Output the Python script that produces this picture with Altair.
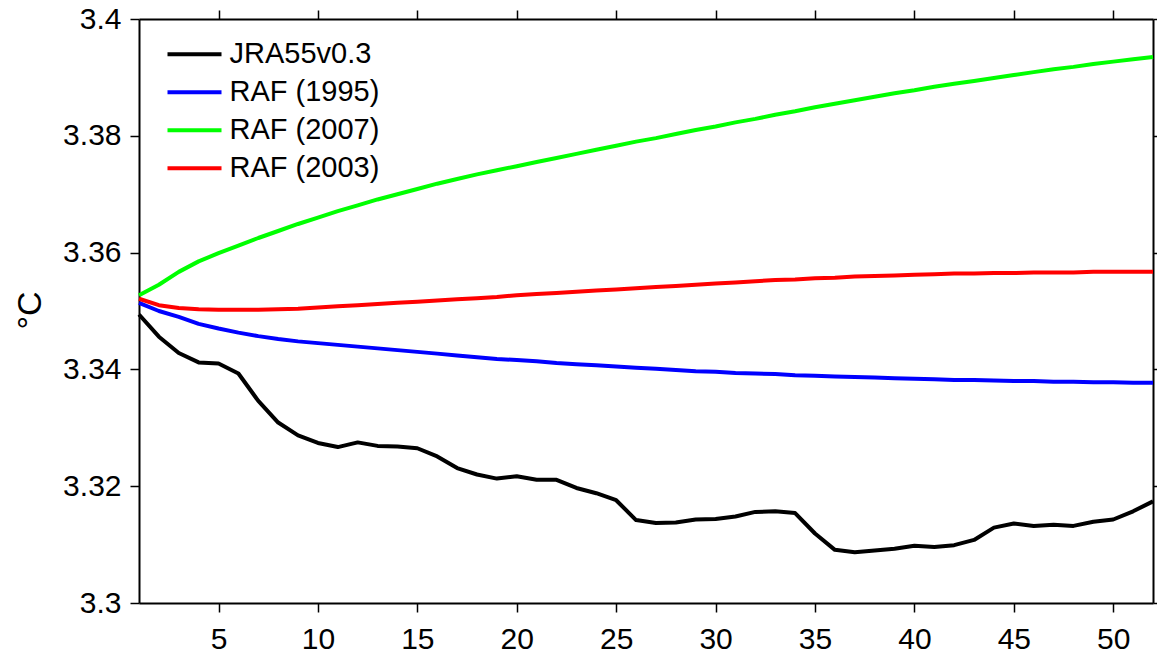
import altair as alt
import pandas as pd

weeks = list(range(1, 53))

jra55 = [3.3494, 3.3456, 3.3428, 3.3412, 3.3410, 3.3393, 3.3346, 3.3309, 3.3287, 3.3274,
         3.3267, 3.3275, 3.3269, 3.3268, 3.3265, 3.3251, 3.3231, 3.3220, 3.3213, 3.3217,
         3.3211, 3.3211, 3.3197, 3.3188, 3.3176, 3.3142, 3.3137, 3.3138, 3.3143, 3.3144,
         3.3148, 3.3156, 3.3157, 3.3154, 3.3119, 3.3091, 3.3087, 3.3090, 3.3093, 3.3098,
         3.3096, 3.3099, 3.3108, 3.3129, 3.3136, 3.3132, 3.3134, 3.3132, 3.3139, 3.3143,
         3.3157, 3.3174]

raf1995 = [3.3514, 3.3500, 3.3490, 3.3478, 3.3470, 3.3463, 3.3457, 3.3452, 3.3448, 3.3445,
           3.3442, 3.3439, 3.3436, 3.3433, 3.3430, 3.3427, 3.3424, 3.3421, 3.3418, 3.3416,
           3.3414, 3.3411, 3.3409, 3.3407, 3.3405, 3.3403, 3.3401, 3.3399, 3.3397, 3.3396,
           3.3394, 3.3393, 3.3392, 3.3390, 3.3389, 3.3388, 3.3387, 3.3386, 3.3385, 3.3384,
           3.3383, 3.3382, 3.3382, 3.3381, 3.3380, 3.3380, 3.3379, 3.3379, 3.3378, 3.3378,
           3.3377, 3.3377]

raf2007 = [3.3527, 3.3545, 3.3567, 3.3585, 3.3599, 3.3612, 3.3625, 3.3637, 3.3649, 3.3660,
           3.3671, 3.3681, 3.3691, 3.3700, 3.3709, 3.3718, 3.3726, 3.3734, 3.3741, 3.3748,
           3.3755, 3.3762, 3.3769, 3.3776, 3.3783, 3.3790, 3.3796, 3.3803, 3.3810, 3.3816,
           3.3823, 3.3829, 3.3836, 3.3842, 3.3849, 3.3855, 3.3861, 3.3867, 3.3873, 3.3878,
           3.3884, 3.3889, 3.3894, 3.3899, 3.3904, 3.3909, 3.3914, 3.3918, 3.3923, 3.3927,
           3.3931, 3.3935]

raf2003 = [3.3521, 3.3510, 3.3505, 3.3503, 3.3502, 3.3502, 3.3502, 3.3503, 3.3504, 3.3506,
           3.3508, 3.3510, 3.3512, 3.3514, 3.3516, 3.3518, 3.3520, 3.3522, 3.3524, 3.3527,
           3.3529, 3.3531, 3.3533, 3.3535, 3.3537, 3.3539, 3.3541, 3.3543, 3.3545, 3.3547,
           3.3549, 3.3551, 3.3553, 3.3554, 3.3556, 3.3557, 3.3559, 3.3560, 3.3561, 3.3562,
           3.3563, 3.3564, 3.3564, 3.3565, 3.3565, 3.3566, 3.3566, 3.3566, 3.3567, 3.3567,
           3.3567, 3.3567]

series_names = ["JRA55v0.3", "RAF (1995)", "RAF (2007)", "RAF (2003)"]
series_colors = ["#000000", "#0000ff", "#00ff00", "#ff0000"]
x_ticks = [5, 10, 15, 20, 25, 30, 35, 40, 45, 50]
y_ticks = [3.3, 3.32, 3.34, 3.36, 3.38, 3.4]

rows = []
for name, vals in zip(series_names, [jra55, raf1995, raf2007, raf2003]):
    for w, v in zip(weeks, vals):
        rows.append({"week": w, "value": v, "series": name})
df = pd.DataFrame(rows)

FONT = "Liberation Sans"
xscale = alt.Scale(domain=[1, 52], nice=False, zero=False)
yscale = alt.Scale(domain=[3.3, 3.4], nice=False, zero=False)

common = dict(domain=True, domainColor="black", domainWidth=2, ticks=True,
              tickColor="black", tickWidth=1.5, tickSize=9, grid=False,
              labelFont=FONT, labelFontSize=30, labelColor="black")

lines = alt.Chart(df).mark_line(strokeWidth=4, strokeJoin="round").encode(
    x=alt.X("week:Q", scale=xscale,
            axis=alt.Axis(orient="bottom", values=x_ticks, title=None,
                          labelPadding=12, **common)),
    y=alt.Y("value:Q", scale=yscale,
            axis=alt.Axis(orient="left", values=y_ticks, title="°C",
                          labelExpr="format(datum.value, '.2~f')",
                          labelPadding=9, titleFont=FONT, titleFontSize=34,
                          titleFontWeight="normal", titleColor="black",
                          titleAngle=-90, titleX=-99, titleY=291,
                          titleAlign="center", titleBaseline="alphabetic",
                          **common)),
    color=alt.Color("series:N",
                    scale=alt.Scale(domain=series_names, range=series_colors),
                    legend=alt.Legend(orient="none", legendX=26.5, legendY=16.3,
                                      title=None, symbolType="stroke",
                                      symbolStrokeWidth=4, symbolSize=2916,
                                      symbolOffset=0, clipHeight=38,
                                      labelFont=FONT, labelFontSize=29,
                                      labelColor="black", labelOffset=6,
                                      labelBaseline="middle",
                                      padding=0, rowPadding=0)),
)

frame = alt.Chart(df).mark_line(opacity=0).encode(
    x=alt.X("week:Q", scale=xscale,
            axis=alt.Axis(orient="top", values=x_ticks, title=None,
                          labels=False, **common)),
    y=alt.Y("value:Q", scale=yscale,
            axis=alt.Axis(orient="right", values=y_ticks, title=None,
                          labels=False, **common)),
    detail="series:N",
)

chart = alt.layer(lines, frame).resolve_axis(
    x="independent", y="independent"
).properties(
    width=1014, height=584,
    padding={"left": 139, "top": 19, "right": 4, "bottom": 54},
    autosize=alt.AutoSizeParams(type="none"),
    background="white",
).configure_view(stroke=None)

chart.save("out.html", embed_options={"renderer": "svg", "actions": False})
